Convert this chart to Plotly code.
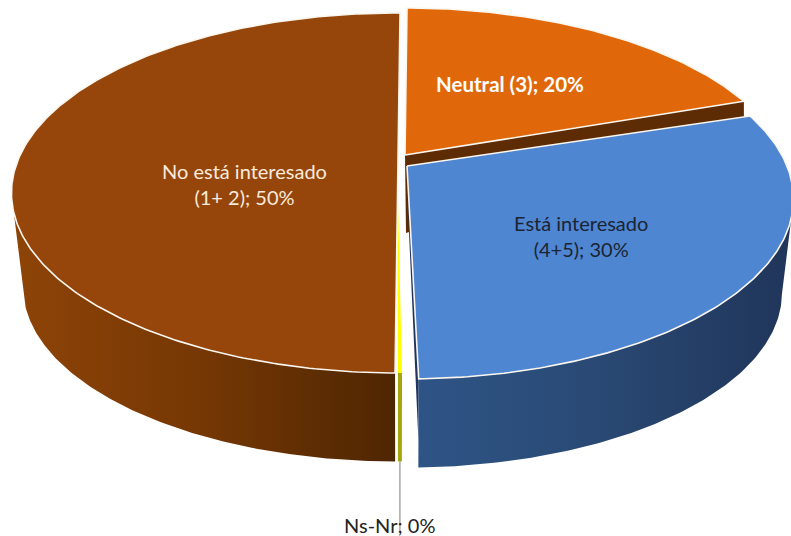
import math
import plotly.graph_objects as go

# ---- data ----
categories = ["Neutral (3)", "Está interesado (4+5)", "Ns-Nr", "No está interesado (1+ 2)"]
shares = [19.6, 29.5, 0.14, 50]        # drawn shares of the pie, %
angle_gap = [0, 1.44, 0.82, 0.48]      # degrees of slack before each slice (3D view skew)
top_colors = ["#E0680A", "#4F86D2", "#FFFF00", "#96460A"]
label_lines = [["Neutral (3); 20%"], ["Está interesado", "(4+5); 30%"], ["Ns-Nr; 0%"],
               ["No está interesado", "(1+ 2); 50%"]]

# ---- view of the tilted pie ----
W, H = 791, 536
R, B, K = 380.0, 174.0, 0.183          # horizontal radius, vertical scale, perspective
DROP, SHRINK = 95.0, 0.97              # lower rim offset and scale
START = 0.36
centers = [(405, 155), (407, 166), (397, 160), (398, 160)]


def rim(center, deg, lower=False, frac=1.0):
    t = math.radians(deg)
    u, v = math.sin(t), -math.cos(t)
    w = 1 - K * v
    s = 1 - (1 - SHRINK) * frac if lower else 1.0
    d = DROP * frac if lower else 0.0
    return center[0] + R * s * u / w, center[1] + d + B * s * v / w


def arc(center, a0, a1, lower=False, frac=1.0):
    n = max(2, int(abs(a1 - a0) * 1.5))
    return [rim(center, a0 + (a1 - a0) * i / n, lower, frac) for i in range(n + 1)]


spans = []
cursor = START
for share, gap in zip(shares, angle_gap):
    cursor += gap
    spans.append((cursor, cursor + share * 3.6))
    cursor += share * 3.6

fig = go.Figure()


def poly(points, fill=None, line=None, lw=0, grad=None):
    xs = [p[0] for p in points] + [points[0][0]]
    ys = [p[1] for p in points] + [points[0][1]]
    kw = dict(x=xs, y=ys, mode="lines", fill="toself", hoverinfo="skip", showlegend=False,
              line=dict(color=line or "rgba(0,0,0,0)", width=lw))
    if grad:
        kw["fillgradient"] = grad
    else:
        kw["fillcolor"] = fill
    fig.add_trace(go.Scatter(**kw))


# orange slice: cut face, seen as a dark band
c, (a0, a1) = centers[0], spans[0]
e = rim(c, a1)
poly([c, e, (e[0], e[1] + DROP * 0.3), (c[0] + 2, c[1] + 78), (c[0] + 1, c[1] + 78)], fill="#5E2C04")

# blue slice: cut face and outer wall
c, (a0, a1) = centers[1], spans[1]
poly([c, rim(c, a1), rim(c, a1, True, 0.7), (c[0] + 2, c[1] + DROP * 0.7)], fill="#1F3560")
poly(arc(c, 101, a1) + arc(c, a1, 101, True), grad=dict(
    type="horizontal", start=418, stop=792,
    colorscale=[[0, "#2E5486"], [0.45, "#2A4A75"], [1, "#20355A"]]))

# Ns-Nr sliver: wall and top (the left slice overlaps its upper end)
c, (a0, a1) = centers[2], spans[2]
poly(arc(c, a0, a1) + arc(c, a1, a0, True), fill="#A5A50C")
poly([c] + arc(c, a0, a1), fill=top_colors[2])

# left slice wall
c, (a0, a1) = centers[3], spans[3]
poly(arc(c, a0, 259) + arc(c, 259, a0, True), grad=dict(
    type="horizontal", start=12, stop=396,
    colorscale=[[0, "#8E4407"], [0.5, "#753704"], [1, "#4E2602"]]))

# top faces
for i in (0, 1, 3):
    c, (a0, a1) = centers[i], spans[i]
    poly([c] + arc(c, a0, a1), fill=top_colors[i], line="#FBF6EE", lw=1.6)

# leader line for the empty slice
lx, ly = rim(centers[2], sum(spans[2]) / 2, True)
fig.add_trace(go.Scatter(x=[lx, lx], y=[ly, 531], mode="lines", hoverinfo="skip",
                         showlegend=False, line=dict(color="#A6A6A6", width=1.5)))

# labels
label_pos = [(510, 84), (581, 236), (389, 525), (244, 183.5)]
label_font = [dict(color="#FFFFFF", size=20.5, family="Lato", weight="bold"),
              dict(color="#1B2433", size=20, family="Lato"),
              dict(color="#222222", size=20, family="Lato"),
              dict(color="#F8EADC", size=20, family="Lato")]
for lines, (x, y), f in zip(label_lines, label_pos, label_font):
    fig.add_annotation(x=x, y=y, text="<br>".join(lines), showarrow=False, font=f, align="center",
                       xanchor="center", yanchor="middle")

fig.update_layout(width=W, height=H, margin=dict(l=0, r=0, t=0, b=0), paper_bgcolor="white",
                  plot_bgcolor="white", showlegend=False,
                  xaxis=dict(range=[0, W], visible=False, fixedrange=True),
                  yaxis=dict(range=[H, 0], visible=False, fixedrange=True))
fig.write_html("out.html", config={"displayModeBar": False},
               post_script="document.body.style.margin='0';")
